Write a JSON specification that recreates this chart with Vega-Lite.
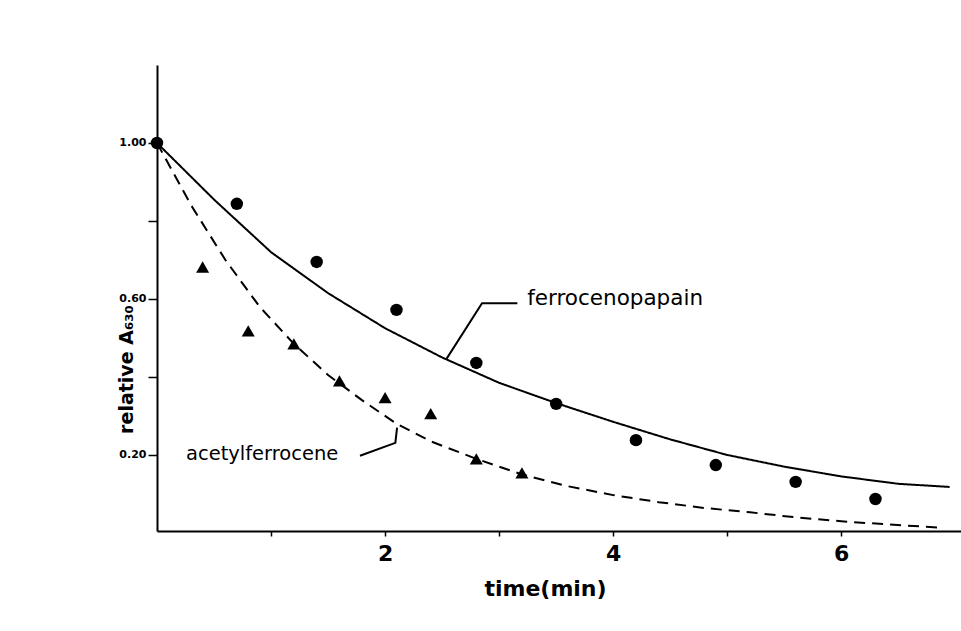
{
  "$schema": "https://vega.github.io/schema/vega-lite/v6.json",
  "width": 804,
  "height": 466,
  "autosize": {"type": "none"},
  "padding": {"left": 157, "top": 65, "right": 0, "bottom": 100},
  "background": "white",
  "config": {
    "view": {"stroke": null},
    "font": "DejaVu Sans",
    "axis": {
      "grid": false,
      "domainColor": "black",
      "domainWidth": 2,
      "tickColor": "black",
      "tickWidth": 1.5,
      "labelColor": "black",
      "titleColor": "black",
      "labelFont": "DejaVu Sans",
      "titleFont": "DejaVu Sans",
      "labelFontWeight": "bold",
      "titleFontWeight": "bold"
    }
  },
  "datasets": {
    "curves": [
      {"series": "ferrocenopapain", "t": 0, "v": 1.0},
      {"series": "ferrocenopapain", "t": 0.5, "v": 0.855},
      {"series": "ferrocenopapain", "t": 1.0, "v": 0.72},
      {"series": "ferrocenopapain", "t": 1.5, "v": 0.615},
      {"series": "ferrocenopapain", "t": 2.0, "v": 0.525},
      {"series": "ferrocenopapain", "t": 2.5, "v": 0.45},
      {"series": "ferrocenopapain", "t": 3.0, "v": 0.385},
      {"series": "ferrocenopapain", "t": 3.5, "v": 0.333},
      {"series": "ferrocenopapain", "t": 4.0, "v": 0.285},
      {"series": "ferrocenopapain", "t": 4.5, "v": 0.24},
      {"series": "ferrocenopapain", "t": 5.0, "v": 0.2},
      {"series": "ferrocenopapain", "t": 5.5, "v": 0.17},
      {"series": "ferrocenopapain", "t": 6.0, "v": 0.145},
      {"series": "ferrocenopapain", "t": 6.5, "v": 0.126},
      {"series": "ferrocenopapain", "t": 6.95, "v": 0.118},
      {"series": "acetylferrocene", "t": 0, "v": 1.0},
      {"series": "acetylferrocene", "t": 0.3, "v": 0.84},
      {"series": "acetylferrocene", "t": 0.6, "v": 0.7},
      {"series": "acetylferrocene", "t": 0.9, "v": 0.58},
      {"series": "acetylferrocene", "t": 1.2, "v": 0.485},
      {"series": "acetylferrocene", "t": 1.5, "v": 0.405},
      {"series": "acetylferrocene", "t": 1.8, "v": 0.34},
      {"series": "acetylferrocene", "t": 2.1, "v": 0.28},
      {"series": "acetylferrocene", "t": 2.4, "v": 0.235},
      {"series": "acetylferrocene", "t": 2.8, "v": 0.19},
      {"series": "acetylferrocene", "t": 3.2, "v": 0.15},
      {"series": "acetylferrocene", "t": 3.6, "v": 0.12},
      {"series": "acetylferrocene", "t": 4.0, "v": 0.097},
      {"series": "acetylferrocene", "t": 4.4, "v": 0.079},
      {"series": "acetylferrocene", "t": 4.8, "v": 0.064},
      {"series": "acetylferrocene", "t": 5.2, "v": 0.053},
      {"series": "acetylferrocene", "t": 5.6, "v": 0.04},
      {"series": "acetylferrocene", "t": 6.0, "v": 0.03},
      {"series": "acetylferrocene", "t": 6.4, "v": 0.022},
      {"series": "acetylferrocene", "t": 6.85, "v": 0.014}
    ],
    "points": [
      {"series": "ferrocenopapain", "t": 0, "v": 1.0},
      {"series": "ferrocenopapain", "t": 0.7, "v": 0.844},
      {"series": "ferrocenopapain", "t": 1.4, "v": 0.695},
      {"series": "ferrocenopapain", "t": 2.1, "v": 0.572},
      {"series": "ferrocenopapain", "t": 2.8, "v": 0.436},
      {"series": "ferrocenopapain", "t": 3.5, "v": 0.331},
      {"series": "ferrocenopapain", "t": 4.2, "v": 0.238},
      {"series": "ferrocenopapain", "t": 4.9, "v": 0.174},
      {"series": "ferrocenopapain", "t": 5.6, "v": 0.131},
      {"series": "ferrocenopapain", "t": 6.3, "v": 0.087},
      {"series": "acetylferrocene", "t": 0.4, "v": 0.682},
      {"series": "acetylferrocene", "t": 0.8, "v": 0.518},
      {"series": "acetylferrocene", "t": 1.2, "v": 0.485},
      {"series": "acetylferrocene", "t": 1.6, "v": 0.39},
      {"series": "acetylferrocene", "t": 2.0, "v": 0.347},
      {"series": "acetylferrocene", "t": 2.4, "v": 0.306},
      {"series": "acetylferrocene", "t": 2.8, "v": 0.19},
      {"series": "acetylferrocene", "t": 3.2, "v": 0.154}
    ],
    "pointers": [
      {"series": "ferrocenopapain", "ord": 1, "t": 2.54, "v": 0.447},
      {"series": "ferrocenopapain", "ord": 2, "t": 2.85, "v": 0.589},
      {"series": "ferrocenopapain", "ord": 3, "t": 3.16, "v": 0.589},
      {"series": "acetylferrocene", "ord": 1, "t": 1.78, "v": 0.198},
      {"series": "acetylferrocene", "ord": 2, "t": 2.09, "v": 0.231},
      {"series": "acetylferrocene", "ord": 3, "t": 2.105, "v": 0.27}
    ],
    "labels": [
      {"series": "ferrocenopapain", "t": 3.246, "v": 0.599},
      {"series": "acetylferrocene", "t": 0.254, "v": 0.203}
    ]
  },
  "encoding": {
    "x": {
      "field": "t",
      "type": "quantitative",
      "scale": {"domain": [0, 7.05], "nice": false, "zero": false},
      "axis": {
        "values": [1, 2, 3, 4, 5, 6],
        "labelExpr": "datum.value % 2 == 0 ? datum.label : ''",
        "labelFontSize": 22,
        "labelPadding": 7,
        "tickSize": 5,
        "title": "time(min)",
        "titleFontSize": 22,
        "titleX": 388,
        "titleY": 57,
        "titleBaseline": "middle",
        "titleAlign": "center"
      }
    },
    "y": {
      "field": "v",
      "type": "quantitative",
      "scale": {"domain": [0.005, 1.2], "nice": false, "zero": false},
      "axis": {
        "values": [0.2, 0.4, 0.6, 0.8, 1.0],
        "format": ".2f",
        "labelExpr": "(datum.label == '0.20' || datum.label == '0.60' || datum.label == '1.00') ? datum.label : ''",
        "labelFontSize": 11,
        "labelPadding": 2,
        "tickSize": 9,
        "title": "relative  A₆₃₀",
        "titleFontSize": 19,
        "titleX": -25,
        "titleY": 304,
        "titleAlign": "center",
        "titleBaseline": "alphabetic"
      }
    }
  },
  "layer": [
    {
      "data": {"name": "curves"},
      "mark": {"type": "line", "color": "black", "strokeWidth": 2},
      "encoding": {
        "detail": {"field": "series"},
        "strokeDash": {
          "field": "series",
          "type": "nominal",
          "scale": {"domain": ["ferrocenopapain", "acetylferrocene"], "range": [[1, 0], [11, 7]]},
          "legend": null
        }
      }
    },
    {
      "data": {"name": "pointers"},
      "mark": {"type": "line", "color": "black", "strokeWidth": 2},
      "encoding": {
        "detail": {"field": "series"},
        "order": {"field": "ord"}
      }
    },
    {
      "data": {"name": "points"},
      "transform": [{"filter": "datum.series == 'acetylferrocene'"}],
      "mark": {"type": "point", "shape": "triangle-up", "filled": true, "color": "black", "opacity": 1, "size": 170}
    },
    {
      "data": {"name": "points"},
      "transform": [{"filter": "datum.series == 'ferrocenopapain'"}],
      "mark": {"type": "point", "shape": "circle", "filled": true, "color": "black", "opacity": 1, "size": 155}
    },
    {
      "data": {"name": "labels"},
      "transform": [{"filter": "datum.series == 'ferrocenopapain'"}],
      "mark": {"type": "text", "align": "left", "baseline": "middle", "font": "DejaVu Sans", "fontSize": 21.5, "color": "black"},
      "encoding": {"text": {"field": "series"}}
    },
    {
      "data": {"name": "labels"},
      "transform": [{"filter": "datum.series == 'acetylferrocene'"}],
      "mark": {"type": "text", "align": "left", "baseline": "middle", "font": "DejaVu Sans", "fontSize": 19.5, "color": "black"},
      "encoding": {"text": {"field": "series"}}
    }
  ]
}
